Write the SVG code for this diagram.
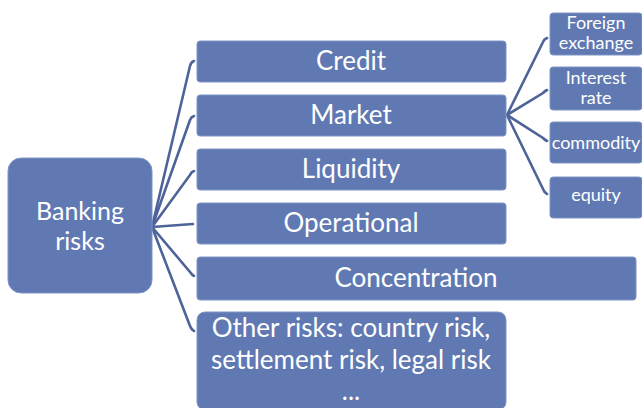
<svg xmlns="http://www.w3.org/2000/svg" width="642" height="408" viewBox="0 0 642 408">
<style>
.box{fill:#6079b3;stroke:#7f95c6;stroke-width:1}
.t{fill:#ffffff;font-family:Lato,"Open Sans",sans-serif;text-anchor:middle}
.m{font-size:26px}
.s{font-size:18px}
.b{font-size:25px}
.c{fill:none;stroke:#4d6399;stroke-width:2.6;stroke-linecap:round}
</style>
<rect width="642" height="408" fill="#ffffff"/>
<g id="connectors">
<path class="c" d="M152,227 L190,66 Q191,62 194,61"/>
<path class="c" d="M152,227 L190,120 Q191,117 194,116"/>
<path class="c" d="M152,227 L190,175 Q191,172 194,171"/>
<path class="c" d="M152,227 L193,224"/>
<path class="c" d="M152,227 L190,272 Q192,275 194,276"/>
<path class="c" d="M152,227 L190,326 Q191,329 194,331"/>
<path class="c" d="M507,115 L543,42 Q544,39 547,38"/>
<path class="c" d="M507,115 L543,93 Q545,91 547,90"/>
<path class="c" d="M507,115 L543,138 Q545,140 547,141"/>
<path class="c" d="M507,115 L543,189 Q544,192 547,194"/>
</g>
<g id="banking">
<rect class="box" x="8" y="158" width="144" height="135" rx="13"/>
<text class="t b" x="80" y="220">Banking</text>
<text class="t b" x="80" y="250">risks</text>
</g>
<g id="credit">
<rect class="box" x="197" y="41" width="309" height="41" rx="3"/>
<text class="t m" x="351" y="70">Credit</text>
</g>
<g id="market">
<rect class="box" x="197" y="95" width="309" height="41" rx="3"/>
<text class="t m" x="351" y="124">Market</text>
</g>
<g id="liquidity">
<rect class="box" x="197" y="149" width="309" height="41" rx="3"/>
<text class="t m" x="351" y="178">Liquidity</text>
</g>
<g id="operational">
<rect class="box" x="197" y="203" width="309" height="41" rx="3"/>
<text class="t m" x="351" y="232">Operational</text>
</g>
<g id="concentration">
<rect class="box" x="197" y="257" width="439" height="43" rx="3"/>
<text class="t m" x="416" y="287">Concentration</text>
</g>
<g id="other">
<rect class="box" x="197" y="312" width="309" height="98" rx="8"/>
<text class="t m" x="351" y="337">Other risks: country risk,</text>
<text class="t m" x="351" y="368.5">settlement risk, legal risk</text>
<text class="t m" x="351" y="400">...</text>
</g>
<g id="fx">
<rect class="box" x="550" y="13" width="92" height="42" rx="3"/>
<text class="t s" x="596" y="29">Foreign</text>
<text class="t s" x="596" y="49">exchange</text>
</g>
<g id="interest">
<rect class="box" x="550" y="67" width="92" height="43" rx="3"/>
<text class="t s" x="596" y="84">Interest</text>
<text class="t s" x="596" y="104">rate</text>
</g>
<g id="commodity">
<rect class="box" x="550" y="122" width="92" height="41" rx="3"/>
<text class="t s" x="596" y="149">commodity</text>
</g>
<g id="equity">
<rect class="box" x="550" y="177" width="92" height="41" rx="3"/>
<text class="t s" x="596" y="201">equity</text>
</g>
</svg>
